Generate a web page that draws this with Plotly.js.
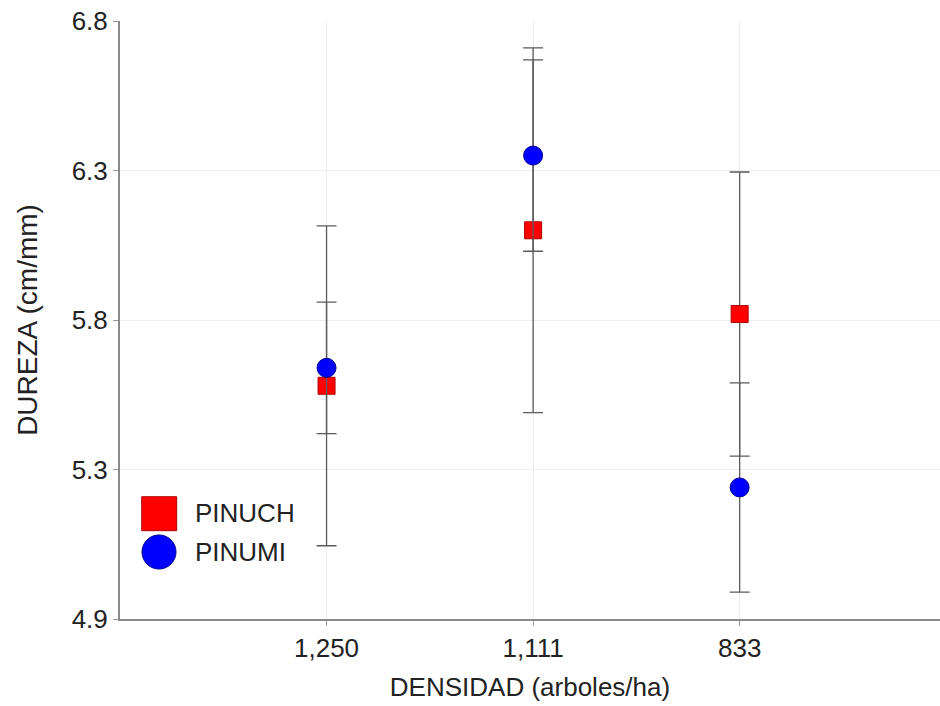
<!DOCTYPE html>
<html>
<head>
<meta charset="utf-8">
<script src="https://cdn.plot.ly/plotly-3.0.1.min.js"></script>
<style>html,body{margin:0;padding:0;background:#fff;}#chart{width:940px;height:706px;}</style>
</head>
<body>
<div id="chart"></div>
<script>
var categories = ["1,250", "1,111", "833"];
var pinuchValues = [5.58, 6.10, 5.82];
var pinuchErrors = [0.535, 0.61, 0.475];
var pinumiValues = [5.64, 6.35, 5.24];
var pinumiErrors = [0.22, 0.32, 0.35];
var yTickValues = [4.8, 5.3, 5.8, 6.3, 6.8];
var yTickLabels = ["4.9", "5.3", "5.8", "6.3", "6.8"];
var seriesNames = ["PINUCH", "PINUMI"];

var FONT = "Liberation Sans, Arial, sans-serif";
var errStyle = {type: "data", visible: true, thickness: 1.3, width: 10, color: "#5a5a5a"};

var traces = [
  {
    type: "scatter", mode: "markers", name: seriesNames[0],
    x: categories, y: pinuchValues,
    error_y: Object.assign({array: pinuchErrors}, errStyle),
    marker: {symbol: "square", size: 17, color: "#ff0000", line: {color: "#b00000", width: 1}}
  },
  {
    type: "scatter", mode: "markers", name: seriesNames[1],
    x: categories, y: pinumiValues,
    error_y: Object.assign({array: pinumiErrors}, errStyle),
    marker: {symbol: "circle", size: 19, color: "#0000ff", line: {color: "#000090", width: 1}}
  }
];

// legend drawn with large symbols (paper coordinates)
var shapes = [
  {type: "rect", xref: "paper", yref: "paper", x0: 0.0265, x1: 0.0691, y0: 0.1477, y1: 0.2045,
   fillcolor: "#ff0000", line: {color: "#b00000", width: 1}},
  {type: "circle", xref: "paper", yref: "paper", x0: 0.0268, x1: 0.0683, y0: 0.0836, y1: 0.1405,
   fillcolor: "#0000ff", line: {color: "#000090", width: 1}}
];
var annotations = [
  {xref: "paper", yref: "paper", x: 0.089, y: 0.1773, xanchor: "left", yanchor: "middle",
   text: seriesNames[0], showarrow: false, font: {family: FONT, size: 26, color: "#222"}},
  {xref: "paper", yref: "paper", x: 0.089, y: 0.1125, xanchor: "left", yanchor: "middle",
   text: seriesNames[1], showarrow: false, font: {family: FONT, size: 26, color: "#222"}}
];

var layout = {
  width: 940, height: 706,
  margin: {l: 120, r: 0, t: 21, b: 87},
  paper_bgcolor: "#ffffff", plot_bgcolor: "#ffffff",
  showlegend: false,
  font: {family: FONT, size: 26, color: "#222"},
  xaxis: {
    type: "category",
    range: [-1, 2.97],
    showline: true, linecolor: "#8a8a8a", linewidth: 2,
    showgrid: true, gridcolor: "#eeeeee", gridwidth: 1,
    ticks: "outside", ticklen: 5, tickcolor: "#9a9a9a",
    tickfont: {family: FONT, size: 26, color: "#222"},
    title: {text: "DENSIDAD (arboles/ha)", font: {family: FONT, size: 26, color: "#222"}, standoff: 16},
    zeroline: false, fixedrange: true
  },
  yaxis: {
    range: [4.8, 6.8],
    tickvals: yTickValues, ticktext: yTickLabels,
    showline: true, linecolor: "#8a8a8a", linewidth: 2,
    showgrid: true, gridcolor: "#eeeeee", gridwidth: 1,
    ticks: "outside", ticklen: 5, tickcolor: "#9a9a9a",
    tickfont: {family: FONT, size: 26, color: "#222"},
    title: {text: "DUREZA (cm/mm)", font: {family: FONT, size: 28, color: "#222"}, standoff: 26},
    zeroline: false, fixedrange: true
  },
  shapes: shapes,
  annotations: annotations
};

Plotly.newPlot("chart", traces, layout, {displayModeBar: false, staticPlot: true});
</script>
</body>
</html>
